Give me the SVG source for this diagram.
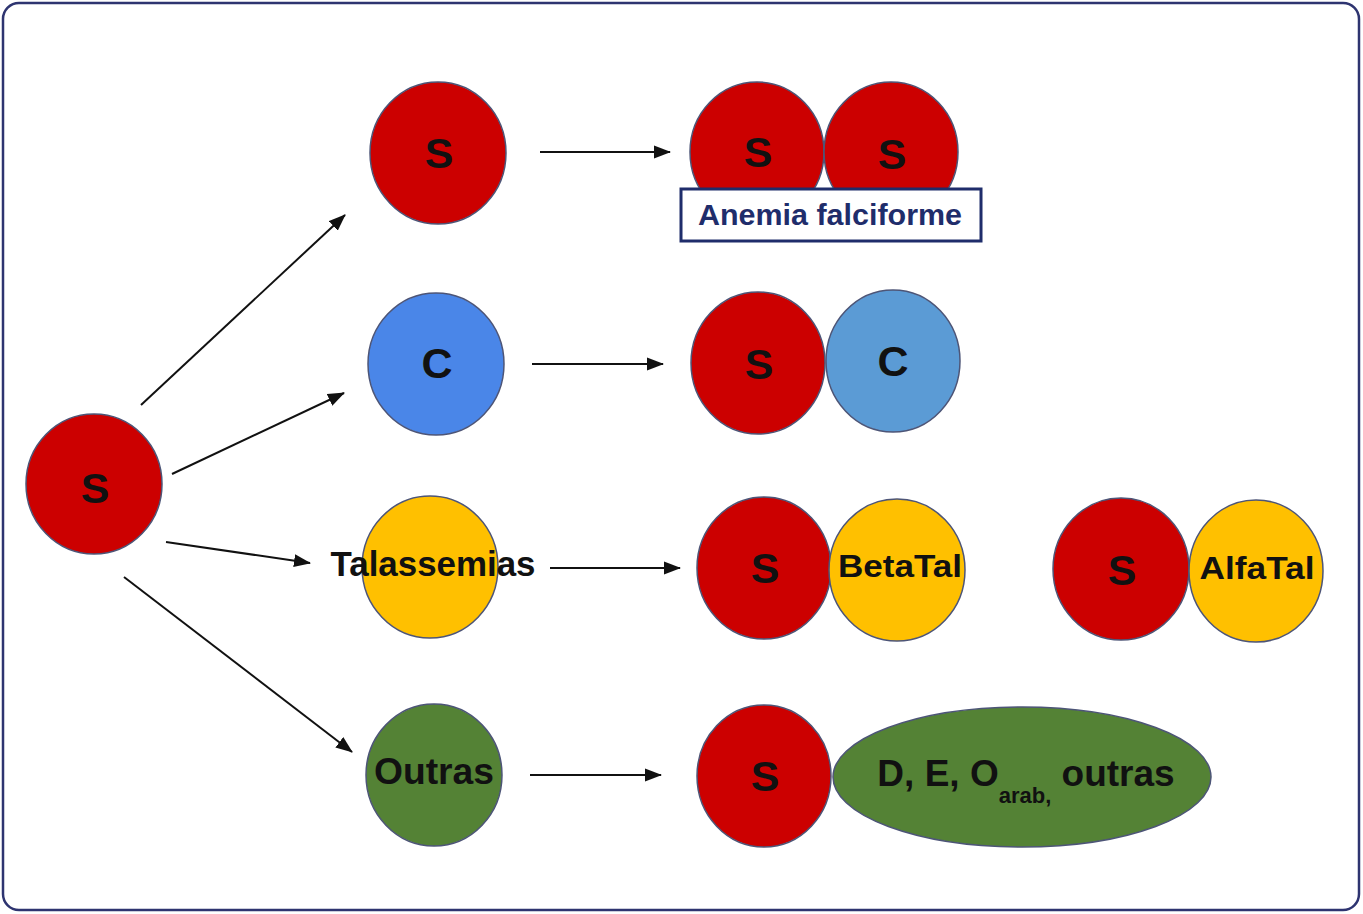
<svg xmlns="http://www.w3.org/2000/svg" width="1363" height="914" viewBox="0 0 1363 914">
<style>
.n{stroke:#4d5577;stroke-width:1.5}
.r{fill:#cc0000}
.y{fill:#ffc000}
.g{fill:#548235}
.t{font-family:"Liberation Sans",Arial,sans-serif;font-weight:bold;fill:#111;text-anchor:middle}
.big{font-size:43px}
.mid{font-size:33px}
.c{stroke:#111;stroke-width:2;fill:none;marker-end:url(#ah)}
</style>
<defs>
<marker id="ah" viewBox="0 0 17 14" refX="16" refY="7" markerWidth="17" markerHeight="14" markerUnits="userSpaceOnUse" orient="auto">
<path d="M0,0.5 L17,7 L0,13.5 z" fill="#111"/>
</marker>
</defs>
<rect x="3" y="3" width="1356" height="907" rx="16" fill="#fff" stroke="#2e3470" stroke-width="2.5"/>
<g id="connectors">
<line class="c" x1="141" y1="405" x2="345" y2="215"/>
<line class="c" x1="172" y1="474" x2="344" y2="393"/>
<line class="c" x1="166" y1="542" x2="310" y2="563"/>
<line class="c" x1="124" y1="577" x2="352" y2="752"/>
<line class="c" x1="540" y1="152" x2="670" y2="152"/>
<line class="c" x1="532" y1="364" x2="663" y2="364"/>
<line class="c" x1="550" y1="568" x2="680" y2="568"/>
<line class="c" x1="530" y1="775" x2="661" y2="775"/>
</g>
<g id="root-s">
<ellipse class="n r" cx="94" cy="484" rx="68" ry="70"/>
<text class="t big" x="95" y="503">S</text>
</g>
<g id="s">
<ellipse class="n r" cx="438" cy="153" rx="68" ry="71"/>
<text class="t big" x="439" y="168">S</text>
</g>
<g id="c">
<ellipse class="n" fill="#4a86e8" cx="436" cy="364" rx="68" ry="71"/>
<text class="t big" x="437" y="378">C</text>
</g>
<g id="talassemias">
<ellipse class="n y" cx="430" cy="567" rx="68" ry="71"/>
<text class="t" x="433" y="576" style="font-size:35px" textLength="205" lengthAdjust="spacingAndGlyphs">Talassemias</text>
</g>
<g id="outras">
<ellipse class="n g" cx="434" cy="775" rx="68" ry="71"/>
<text class="t" x="434" y="784" style="font-size:36px" textLength="120" lengthAdjust="spacingAndGlyphs">Outras</text>
</g>
<g id="ss">
<ellipse class="n r" cx="757" cy="152" rx="67" ry="70"/>
<text class="t big" x="758" y="167">S</text>
<ellipse class="n r" cx="891" cy="152" rx="67" ry="70"/>
<text class="t big" x="892" y="169">S</text>
</g>
<g id="anemia-falciforme">
<rect x="681" y="189" width="300" height="52" fill="#fff" stroke="#1f2d6b" stroke-width="3"/>
<text class="t" x="830" y="225" style="font-size:29px;fill:#1f2d6b" textLength="264" lengthAdjust="spacingAndGlyphs">Anemia falciforme</text>
</g>
<g id="sc">
<ellipse class="n r" cx="758" cy="363" rx="67" ry="71"/>
<text class="t big" x="759" y="379">S</text>
<ellipse class="n" fill="#5b9bd5" cx="893" cy="361" rx="67" ry="71"/>
<text class="t big" x="893" y="376">C</text>
</g>
<g id="s-betatal">
<ellipse class="n r" cx="764" cy="568" rx="67" ry="71"/>
<text class="t big" x="765" y="583">S</text>
<ellipse class="n y" cx="897" cy="570" rx="68" ry="71"/>
<text class="t" x="900" y="577" style="font-size:32px" textLength="124" lengthAdjust="spacingAndGlyphs">BetaTal</text>
</g>
<g id="s-alfatal">
<ellipse class="n r" cx="1121" cy="569" rx="68" ry="71"/>
<text class="t big" x="1122" y="585">S</text>
<ellipse class="n y" cx="1256" cy="571" rx="67" ry="71"/>
<text class="t" x="1257" y="579" style="font-size:32px" textLength="115" lengthAdjust="spacingAndGlyphs">AlfaTal</text>
</g>
<g id="s-outras">
<ellipse class="n r" cx="764" cy="776" rx="67" ry="71"/>
<text class="t big" x="765" y="791">S</text>
<ellipse class="n g" cx="1022" cy="777" rx="189" ry="70"/>
<text class="t" x="1026" y="786" style="font-size:37px">D, E, O<tspan style="font-size:22px" dy="17">arab,</tspan><tspan dy="-17"> outras</tspan></text>
</g>
</svg>
